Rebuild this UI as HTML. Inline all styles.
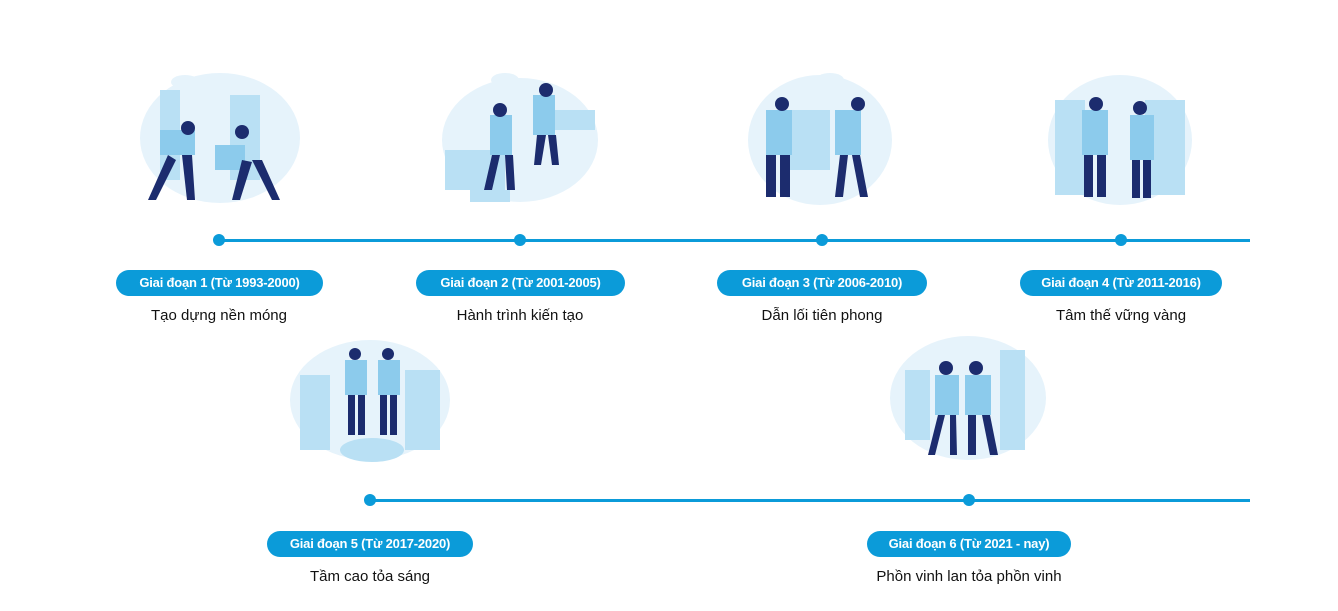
<!DOCTYPE html>
<html><head><meta charset="utf-8"><style>
body{margin:0;width:1338px;height:611px;background:#fff;position:relative;overflow:hidden;font-family:"Liberation Sans",sans-serif}
.line{position:absolute;height:3px;background:#0b9bd9}
.dot{position:absolute;width:12px;height:12px;border-radius:50%;background:#0b9bd9}
.pill{position:absolute;height:26px;border-radius:13px;background:#0b9bd9;color:#fff;font-size:13px;font-weight:bold;line-height:26px;text-align:center;letter-spacing:-0.2px}
.t{position:absolute;font-size:15px;color:#111;text-align:center;width:300px}
.ill{position:absolute}
</style></head><body>
<div class="line" style="left:219px;top:239px;width:1031px"></div>
<div class="dot" style="left:213px;top:234px"></div>
<div class="dot" style="left:514px;top:234px"></div>
<div class="dot" style="left:816px;top:234px"></div>
<div class="dot" style="left:1115px;top:234px"></div>
<div class="pill" style="left:116px;top:270px;width:207px">Giai đoạn 1 (Từ 1993-2000)</div>
<div class="pill" style="left:416px;top:270px;width:209px">Giai đoạn 2 (Từ 2001-2005)</div>
<div class="pill" style="left:717px;top:270px;width:210px">Giai đoạn 3 (Từ 2006-2010)</div>
<div class="pill" style="left:1020px;top:270px;width:202px">Giai đoạn 4 (Từ 2011-2016)</div>
<div class="t" style="left:69px;top:307px">Tạo dựng nền móng</div>
<div class="t" style="left:370px;top:307px">Hành trình kiến tạo</div>
<div class="t" style="left:672px;top:307px">Dẫn lối tiên phong</div>
<div class="t" style="left:971px;top:307px">Tâm thế vững vàng</div>

<div class="line" style="left:370px;top:499px;width:880px"></div>
<div class="dot" style="left:364px;top:494px"></div>
<div class="dot" style="left:963px;top:494px"></div>
<div class="pill" style="left:267px;top:531px;width:206px">Giai đoạn 5 (Từ 2017-2020)</div>
<div class="pill" style="left:867px;top:531px;width:204px">Giai đoạn 6 (Từ 2021 - nay)</div>
<div class="t" style="left:220px;top:568px">Tầm cao tỏa sáng</div>
<div class="t" style="left:819px;top:568px">Phồn vinh lan tỏa phồn vinh</div>

<svg class="ill" style="left:0;top:0" width="1338" height="611">
<g fill="#e6f3fb">
<ellipse cx="220" cy="138" rx="80" ry="65"/>
<ellipse cx="520" cy="140" rx="78" ry="62"/>
<ellipse cx="820" cy="140" rx="72" ry="65"/>
<ellipse cx="1120" cy="140" rx="72" ry="65"/>
<ellipse cx="370" cy="400" rx="80" ry="60"/>
<ellipse cx="968" cy="398" rx="78" ry="62"/>
<ellipse cx="185" cy="82" rx="14" ry="7"/><ellipse cx="505" cy="80" rx="14" ry="7"/><ellipse cx="830" cy="80" rx="14" ry="7"/>
</g>
<g fill="#b9e0f4">
<rect x="160" y="90" width="20" height="90"/><rect x="230" y="95" width="30" height="85"/>
<rect x="445" y="150" width="60" height="40"/><rect x="470" y="190" width="40" height="12"/><rect x="545" y="110" width="50" height="20"/>
<rect x="780" y="110" width="50" height="60"/>
<rect x="1055" y="100" width="30" height="95"/><rect x="1145" y="100" width="40" height="95"/>
<rect x="300" y="375" width="30" height="75"/><rect x="405" y="370" width="35" height="80"/><ellipse cx="372" cy="450" rx="32" ry="12"/>
<rect x="905" y="370" width="25" height="70"/><rect x="1000" y="350" width="25" height="100"/>
</g>
<g fill="#8ccbec">
<rect x="160" y="130" width="35" height="25"/><rect x="215" y="145" width="30" height="25"/>
<rect x="490" y="115" width="22" height="40"/><rect x="533" y="95" width="22" height="40"/>
<rect x="766" y="110" width="26" height="45"/><rect x="835" y="110" width="26" height="45"/>
<rect x="1082" y="110" width="26" height="45"/><rect x="1130" y="115" width="24" height="45"/>
<rect x="345" y="360" width="22" height="35"/><rect x="378" y="360" width="22" height="35"/>
<rect x="935" y="375" width="24" height="40"/><rect x="965" y="375" width="26" height="40"/>
</g>
<g fill="#1c2c6e">
<circle cx="188" cy="128" r="7"/><circle cx="242" cy="132" r="7"/>
<circle cx="500" cy="110" r="7"/><circle cx="546" cy="90" r="7"/>
<circle cx="782" cy="104" r="7"/><circle cx="858" cy="104" r="7"/>
<circle cx="1096" cy="104" r="7"/><circle cx="1140" cy="108" r="7"/>
<circle cx="355" cy="354" r="6"/><circle cx="388" cy="354" r="6"/>
<circle cx="946" cy="368" r="7"/><circle cx="976" cy="368" r="7"/>
<path d="M168 155l-20 45h8l20-40zM182 155l5 45h8l-3-45z"/>
<path d="M242 160l-10 40h8l12-38zM252 160l20 40h8l-18-40z"/>
<path d="M492 155l-8 35h8l8-35zM505 155l2 35h8l-2-35z"/>
<path d="M537 135l-3 30h7l5-30zM548 135l4 30h7l-3-30z"/>
<rect x="766" y="155" width="10" height="42"/><rect x="780" y="155" width="10" height="42"/>
<path d="M840 155l-5 42h8l5-42zM852 155l8 42h8l-8-42z"/>
<rect x="1084" y="155" width="9" height="42"/><rect x="1097" y="155" width="9" height="42"/>
<rect x="1132" y="160" width="8" height="38"/><rect x="1143" y="160" width="8" height="38"/>
<rect x="348" y="395" width="7" height="40"/><rect x="358" y="395" width="7" height="40"/>
<rect x="380" y="395" width="7" height="40"/><rect x="390" y="395" width="7" height="40"/>
<path d="M938 415l-10 40h7l10-40zM950 415l0 40h7l-1-40z"/>
<path d="M968 415l0 40h8l0-40zM982 415l8 40h8l-8-40z"/>
</g>
</svg>
</body></html>
